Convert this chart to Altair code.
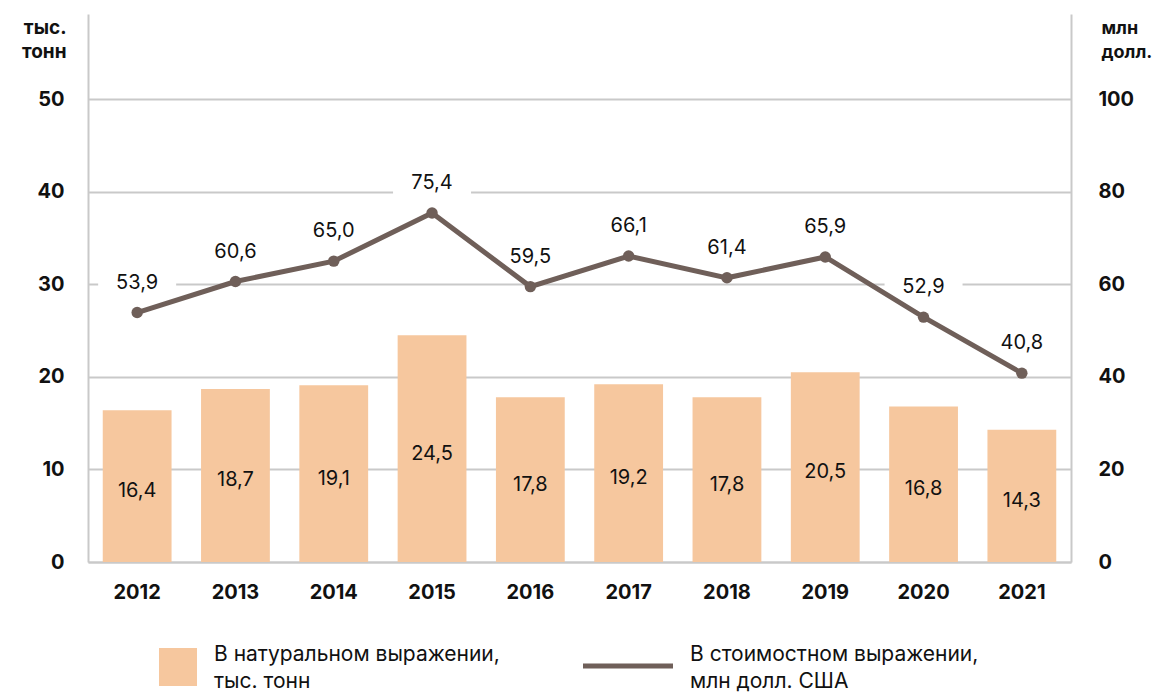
import altair as alt
import pandas as pd

years = ["2012", "2013", "2014", "2015", "2016", "2017", "2018", "2019", "2020", "2021"]
tons = [16.4, 18.7, 19.1, 24.5, 17.8, 19.2, 17.8, 20.5, 16.8, 14.3]
usd = [53.9, 60.6, 65.0, 75.4, 59.5, 66.1, 61.4, 65.9, 52.9, 40.8]

left_title = ["тыс.", "тонн"]
right_title = ["млн", "долл."]
legend_bar = "В натуральном выражении,\nтыс. тонн"
legend_line = "В стоимостном выражении,\nмлн долл. США"

BAR = "#F6C79E"
LINE = "#6F5F59"
GRID = "#C9C9C9"
FONT = "Inter"

df = pd.DataFrame({
    "year": years,
    "tons": tons,
    "usd": usd,
    "tons_lbl": [f"{v:.1f}".replace(".", ",") for v in tons],
    "usd_lbl": [f"{v:.1f}".replace(".", ",") for v in usd],
})

W, H = 983, 548
x_axis = alt.Axis(labelFont=FONT, labelFontSize=20, labelFontWeight="bold",
                  labelColor="#111", labelPadding=20, ticks=False,
                  domainColor=GRID, domainWidth=2, labelAngle=0)
x = alt.X("year:N", title=None, sort=years,
          scale=alt.Scale(paddingInner=0.3, paddingOuter=0.15), axis=x_axis)

yl_scale = alt.Scale(domain=[0, 59.2], nice=False)
yr_scale = alt.Scale(domain=[0, 118.4], nice=False)

yl_axis = alt.Axis(values=[0, 10, 20, 30, 40, 50], title=left_title,
                   titleAngle=0, titleAlign="right", titleX=-22, titleY=19,
                   titleBaseline="alphabetic", titleFont=FONT, titleFontSize=19,
                   titleFontWeight="bold", titleColor="#111", titleLineHeight=24,
                   labelFont=FONT, labelFontSize=20, labelFontWeight="bold",
                   labelColor="#111", labelPadding=24, ticks=False,
                   grid=True, gridColor=GRID, gridWidth=2,
                   domainColor=GRID, domainWidth=2)
yr_axis = alt.Axis(values=[0, 20, 40, 60, 80, 100], title=right_title, orient="right",
                   titleAngle=0, titleAlign="left", titleX=30, titleY=19,
                   titleBaseline="alphabetic", titleFont=FONT, titleFontSize=18,
                   titleFontWeight="bold", titleColor="#111", titleLineHeight=24,
                   labelFont=FONT, labelFontSize=20, labelFontWeight="bold",
                   labelColor="#111", labelPadding=27, ticks=False, grid=False,
                   domainColor=GRID, domainWidth=2)

bars = alt.Chart(df).mark_bar(color=BAR).encode(
    x=x,
    y=alt.Y("tons:Q", scale=yl_scale, axis=yl_axis),
)
bar_text = alt.Chart(df).transform_calculate(half="datum.tons / 2").mark_text(
    font=FONT, fontSize=20, color="#111", dy=5
).encode(
    x=x,
    y=alt.Y("half:Q", scale=yl_scale, axis=yl_axis),
    text="tons_lbl:N",
)
left = alt.layer(bars, bar_text)

boxes = alt.Chart(df).mark_rect(color="white", width=78, height=26, yOffset=-30).encode(
    x=x,
    y=alt.Y("usd:Q", scale=yr_scale, axis=yr_axis),
)
line = alt.Chart(df).mark_line(color=LINE, strokeWidth=5,
                               point=alt.OverlayMarkDef(color=LINE, size=130, filled=True)).encode(
    x=x,
    y=alt.Y("usd:Q", scale=yr_scale, axis=yr_axis),
)
line_text = alt.Chart(df).mark_text(font=FONT, fontSize=20, color="#111", dy=-30).encode(
    x=x,
    y=alt.Y("usd:Q", scale=yr_scale, axis=yr_axis),
    text="usd_lbl:N",
)
right = alt.layer(boxes, line, line_text)

one = pd.DataFrame({"k": [0]})
leg_rect = alt.Chart(one).mark_rect(color=BAR).encode(
    x=alt.value(71), x2=alt.value(109), y=alt.value(634), y2=alt.value(672))
leg_rule = alt.Chart(one).mark_rule(color=LINE, strokeWidth=5).encode(
    x=alt.value(495), x2=alt.value(585), y=alt.value(652))
leg_t1 = alt.Chart(one).mark_text(text=legend_bar, lineBreak="\n", align="left",
                                  baseline="alphabetic", font=FONT, fontSize=21,
                                  color="#111", lineHeight=27).encode(
    x=alt.value(126), y=alt.value(647))
leg_t2 = alt.Chart(one).mark_text(text=legend_line, lineBreak="\n", align="left",
                                  baseline="alphabetic", font=FONT, fontSize=21,
                                  color="#111", lineHeight=27).encode(
    x=alt.value(602), y=alt.value(647))

chart = alt.layer(left, right, leg_rect, leg_rule, leg_t1, leg_t2).resolve_scale(
    y="independent"
).properties(
    width=W, height=H,
    autosize=alt.AutoSizeParams(type="none"),
    padding={"left": 80, "top": 6, "right": 83, "bottom": 130},
).configure_view(stroke=None)

chart.save("out.html", embed_options={"renderer": "svg", "actions": False})
